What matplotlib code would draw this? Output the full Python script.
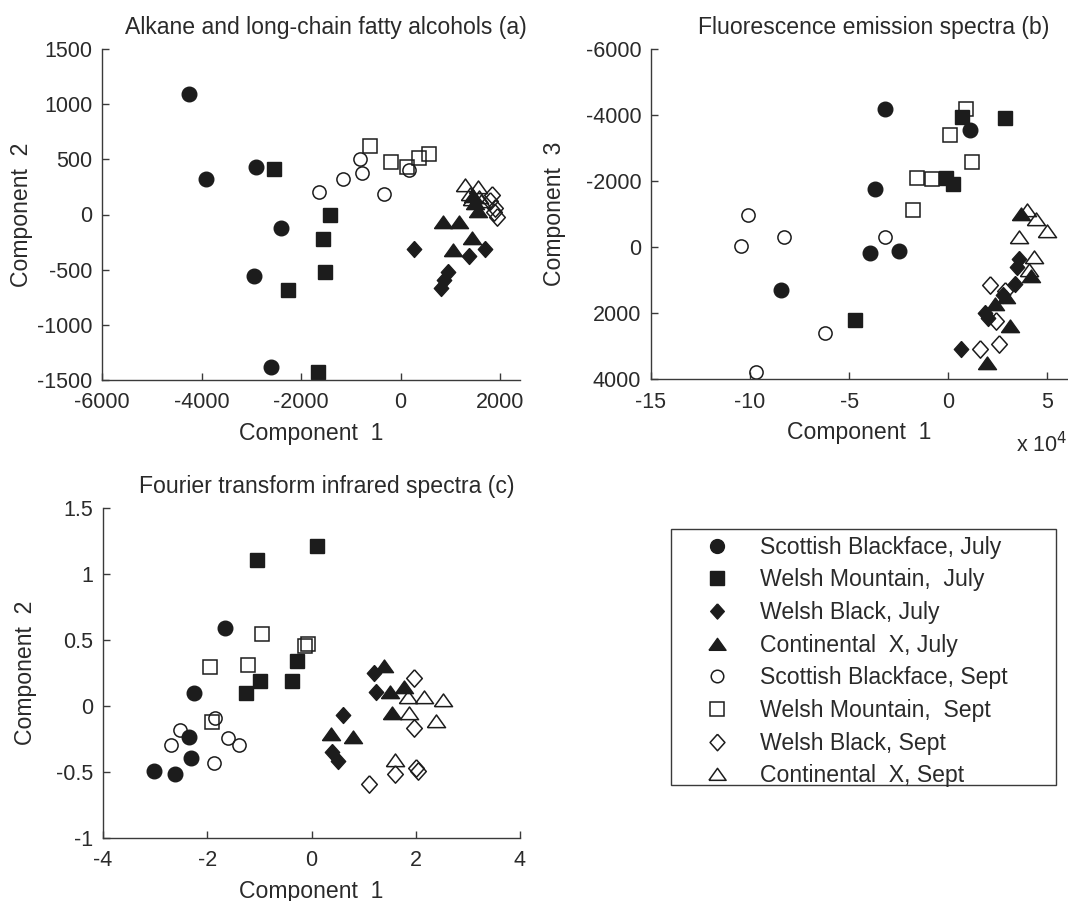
import matplotlib
matplotlib.use("Agg")
import matplotlib.pyplot as plt
from matplotlib.lines import Line2D
from matplotlib.patches import Rectangle

plt.rcParams['font.family'] = ['Liberation Sans', 'DejaVu Sans']
plt.rcParams['axes.unicode_minus'] = False

# ---------------- data ----------------
groups = ["Scottish Blackface, July", "Welsh Mountain,  July", "Welsh Black, July",
          "Continental  X, July", "Scottish Blackface, Sept", "Welsh Mountain,  Sept",
          "Welsh Black, Sept", "Continental  X, Sept"]

# Panel (a): alkanes and long-chain fatty alcohols
a_sb_jul_x = [-4250, -3900, -2900, -2400, -2950, -2600]
a_sb_jul_y = [1095, 320, 430, -120, -560, -1380]
a_wm_jul_x = [-2550, -1420, -1550, -1520, -2270, -1650]
a_wm_jul_y = [415, 0, -225, -525, -680, -1430]
a_wb_jul_x = [270, 1370, 1690, 950, 880, 820]
a_wb_jul_y = [-315, -380, -315, -525, -590, -670]
a_cx_jul_x = [850, 1170, 1430, 1050, 1450, 1500, 1550]
a_cx_jul_y = [-70, -70, -210, -320, 170, 100, 30]
a_sb_sep_x = [-1630, -1150, -810, -770, -340, 170]
a_sb_sep_y = [205, 320, 500, 380, 185, 400]
a_wm_sep_x = [-610, -200, 130, 370, 580]
a_wm_sep_y = [624, 478, 433, 509, 545]
a_wb_sep_x = [1830, 1800, 1870, 1930, 1900]
a_wb_sep_y = [175, 120, 25, -20, 60]
a_cx_sep_x = [1300, 1390, 1550, 1570, 1430, 1620]
a_cx_sep_y = [265, 190, 250, 160, 145, 120]

# Panel (b): fluorescence emission spectra (component 1 in units of 1e4)
b_sb_jul_x = [-3.17, 1.09, -3.69, -3.94, -2.48, -8.45]
b_sb_jul_y = [-4180, -3540, -1760, 170, 110, 1300]
b_wm_jul_x = [0.72, 2.85, -0.12, 0.22, -4.70]
b_wm_jul_y = [-3940, -3900, -2100, -1900, 2220]
b_wb_jul_x = [0.67, 1.85, 2.0, 2.75, 3.35, 3.6, 3.5]
b_wb_jul_y = [3080, 2000, 2150, 1450, 1120, 370, 620]
b_cx_jul_x = [3.7, 4.2, 2.35, 3.1, 1.95, 2.9]
b_cx_jul_y = [-1000, 880, 1720, 2400, 3530, 1500]
b_sb_sep_x = [-10.08, -10.45, -8.27, -3.17, -6.21, -9.69]
b_sb_sep_y = [-970, -40, -300, -300, 2620, 3790]
b_wm_sep_x = [0.89, 0.10, 1.21, -1.58, -0.84, -1.78]
b_wm_sep_y = [-4190, -3380, -2570, -2080, -2050, -1130]
b_wb_sep_x = [2.10, 2.40, 2.57, 1.60, 2.85]
b_wb_sep_y = [1140, 2240, 2950, 3080, 1320]
b_cx_sep_x = [3.98, 4.45, 4.98, 3.57, 4.31, 4.1]
b_cx_sep_y = [-1110, -860, -500, -300, 300, 700]

# Panel (c): FTIR spectra
c_sb_jul_x = [-1.66, -2.25, -2.35, -2.31, -3.03, -2.62]
c_sb_jul_y = [0.594, 0.096, -0.233, -0.392, -0.491, -0.516]
c_wm_jul_x = [-1.05, 0.11, -0.27, -0.98, -0.37, -1.26]
c_wm_jul_y = [1.108, 1.214, 0.344, 0.190, 0.190, 0.096]
c_wb_jul_x = [0.61, 0.39, 0.50, 1.19, 1.24]
c_wb_jul_y = [-0.068, -0.347, -0.417, 0.248, 0.109]
c_cx_jul_x = [1.40, 1.51, 1.77, 1.54, 0.37, 0.79]
c_cx_jul_y = [0.30, 0.109, 0.146, -0.055, -0.212, -0.233]
c_sb_sep_x = [-1.85, -2.53, -2.70, -1.61, -1.40, -1.88]
c_sb_sep_y = [-0.093, -0.182, -0.296, -0.240, -0.296, -0.430]
c_wm_sep_x = [-0.95, -0.06, -0.12, -1.94, -1.22, -1.91]
c_wm_sep_y = [0.544, 0.468, 0.458, 0.298, 0.311, -0.119]
c_wb_sep_x = [1.96, 1.96, 2.01, 2.04, 1.61, 1.11]
c_wb_sep_y = [0.210, -0.169, -0.473, -0.49, -0.516, -0.592]
c_cx_sep_x = [1.86, 2.16, 2.52, 1.88, 2.39, 1.61]
c_cx_sep_y = [0.071, 0.071, 0.046, -0.055, -0.114, -0.41]

# ---------------- styles ----------------
INK = "#1c1c1c"
TXT = "#2a2a2a"
AX = "#3a3a3a"
tri = [(-1, -0.68), (1, -0.68), (0, 0.72), (-1, -0.68)]
dia = [(0, 1), (0.9, 0), (0, -1), (-0.9, 0), (0, 1)]
styles = [
    dict(marker='o', ms=10.5, mfc=INK, mec=INK, mew=1.0),
    dict(marker='s', ms=10.0, mfc=INK, mec=INK, mew=1.0),
    dict(marker=dia, ms=11.5, mfc=INK, mec=INK, mew=1.0),
    dict(marker=tri, ms=13.0, mfc=INK, mec=INK, mew=1.0),
    dict(marker='o', ms=9.5, mfc='none', mec=INK, mew=1.1),
    dict(marker='s', ms=10.5, mfc='none', mec=INK, mew=1.1),
    dict(marker=dia, ms=12.5, mfc='none', mec=INK, mew=1.1),
    dict(marker=tri, ms=13.0, mfc='none', mec=INK, mew=1.1),
]

TICK_FS = 15.5
LAB_FS = 16.6

fig = plt.figure(figsize=(10.68, 9.01), dpi=100)
W, H = 1068.0, 901.0


def make_ax(l, r, t, b):
    ax = fig.add_axes([l / W, 1 - b / H, (r - l) / W, (b - t) / H])
    for s in ('top', 'right'):
        ax.spines[s].set_visible(False)
    for s in ('left', 'bottom'):
        ax.spines[s].set_color(AX)
        ax.spines[s].set_linewidth(1.0)
    ax.tick_params(direction='in', length=5, width=1.0, color=AX,
                   labelsize=TICK_FS, labelcolor=TXT)
    ax.tick_params(axis='x', pad=9)
    ax.tick_params(axis='y', pad=7)
    return ax


def finish(ax, l, r, title, xlab, ylab, ylab_right_px):
    w = r - l
    ax.set_title(title, fontsize=LAB_FS, color=TXT, pad=11, x=0.5 + 15.0 / w)
    ax.set_xlabel(xlab, fontsize=LAB_FS, color=TXT, labelpad=6)
    ax.set_ylabel(ylab, fontsize=LAB_FS, color=TXT)
    ax.yaxis.set_label_coords((ylab_right_px - l) / w, 0.5)


def draw(ax, xs, ys):
    for x, y, st in zip(xs, ys, styles):
        ax.plot(x, y, ls='none', clip_on=False, **st)


# (a)
axa = make_ax(102, 520, 49, 380)
draw(axa,
     [a_sb_jul_x, a_wm_jul_x, a_wb_jul_x, a_cx_jul_x, a_sb_sep_x, a_wm_sep_x, a_wb_sep_x, a_cx_sep_x],
     [a_sb_jul_y, a_wm_jul_y, a_wb_jul_y, a_cx_jul_y, a_sb_sep_y, a_wm_sep_y, a_wb_sep_y, a_cx_sep_y])
axa.set_xlim(-6000, 2400)
axa.set_ylim(-1500, 1500)
axa.set_xticks([-6000, -4000, -2000, 0, 2000])
axa.set_yticks([-1500, -1000, -500, 0, 500, 1000, 1500])
finish(axa, 102, 520, "Alkane and long-chain fatty alcohols (a)", "Component  1", "Component  2", 33)

# (b)
axb = make_ax(651, 1067, 49, 379)
draw(axb,
     [b_sb_jul_x, b_wm_jul_x, b_wb_jul_x, b_cx_jul_x, b_sb_sep_x, b_wm_sep_x, b_wb_sep_x, b_cx_sep_x],
     [b_sb_jul_y, b_wm_jul_y, b_wb_jul_y, b_cx_jul_y, b_sb_sep_y, b_wm_sep_y, b_wb_sep_y, b_cx_sep_y])
axb.set_xlim(-15, 6)
axb.set_ylim(4000, -6000)
axb.set_xticks([-15, -10, -5, 0, 5])
axb.set_yticks([-6000, -4000, -2000, 0, 2000, 4000])
finish(axb, 651, 1067, "Fluorescence emission spectra (b)", "Component  1", "Component  3", 566)
fig.text(1016 / W, 1 - 445 / H, r"x 10$^{4}$", fontsize=TICK_FS, color=TXT,
         ha='left', va='center')

# (c)
axc = make_ax(103, 520, 508, 838)
draw(axc,
     [c_sb_jul_x, c_wm_jul_x, c_wb_jul_x, c_cx_jul_x, c_sb_sep_x, c_wm_sep_x, c_wb_sep_x, c_cx_sep_x],
     [c_sb_jul_y, c_wm_jul_y, c_wb_jul_y, c_cx_jul_y, c_sb_sep_y, c_wm_sep_y, c_wb_sep_y, c_cx_sep_y])
axc.set_xlim(-4, 4)
axc.set_ylim(-1, 1.5)
axc.set_xticks([-4, -2, 0, 2, 4])
axc.set_yticks([-1, -0.5, 0, 0.5, 1, 1.5])
axc.set_yticklabels(["-1", "-0.5", "0", "0.5", "1", "1.5"])
finish(axc, 103, 520, "Fourier transform infrared spectra (c)", "Component  1", "Component  2", 37)

# legend (frame drawn separately to match the wide box)
handles = []
for st in styles:
    s = dict(st)
    s['ms'] = s['ms'] * 0.95
    handles.append(Line2D([], [], ls='none', **s))
leg = fig.legend(handles, groups, loc='upper left',
                 bbox_to_anchor=(671 / W, 1 - 531 / H), bbox_transform=fig.transFigure,
                 fontsize=LAB_FS, frameon=False, borderpad=0.2,
                 labelspacing=0.42, handletextpad=0.05, handlelength=3.6,
                 borderaxespad=0)
for t in leg.get_texts():
    t.set_color(TXT)
fig.patches.append(Rectangle((671 / W, 1 - 785 / H), (1056 - 671) / W, (785 - 529) / H,
                             transform=fig.transFigure, fill=False,
                             edgecolor=AX, linewidth=1.0))

fig.savefig("out.png", dpi=100)
